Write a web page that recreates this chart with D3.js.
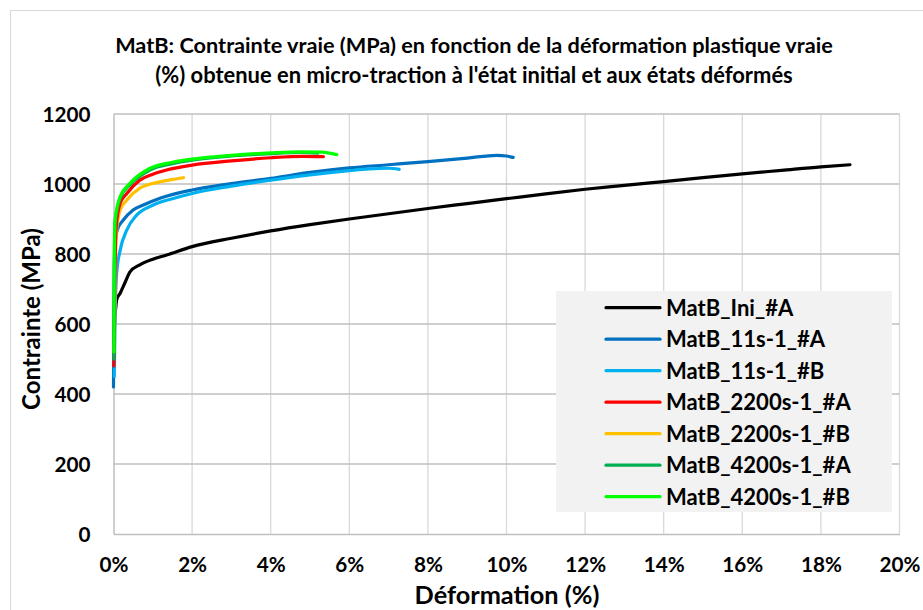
<!DOCTYPE html>
<html><head><meta charset="utf-8">
<script src="https://cdn.jsdelivr.net/npm/d3@7"></script>
<style>body{margin:0;background:#fff}svg{display:block}text{font-family:Lato,"Open Sans",sans-serif;font-weight:bold;fill:#000}</style>
</head><body><svg id="c" width="923" height="610"></svg>
<script>
const titleLines = ["MatB: Contrainte vraie (MPa) en fonction de la déformation plastique vraie",
  "(%) obtenue en micro-traction à l'état initial et aux états déformés"];
const xTicks = [0,2,4,6,8,10,12,14,16,18,20];
const yTicks = [0,200,400,600,800,1000,1200];
const seriesNames = ["MatB_Ini_#A","MatB_11s-1_#A","MatB_11s-1_#B","MatB_2200s-1_#A","MatB_2200s-1_#B","MatB_4200s-1_#A","MatB_4200s-1_#B"];
const seriesColors = ["#000000","#0070c0","#00b0f0","#ff0000","#ffc000","#00b050","#00ff00"];
// [strain %, stress MPa]
const ini_A = [[0.01,560],[0.03,610],[0.06,650],[0.08,669],[0.17,688],[0.3,720],[0.42,749],[0.67,769],[1.0,785],[1.35,797],[2,821],[3,845],[4,866],[5,884],[6,900],[7,915],[8,930],[9,944],[10,958],[11,972],[12,985],[13,996],[14,1007],[15,1018],[16,1029],[17,1039],[18,1049],[18.74,1055]];
const s11_A = [[0.0,420],[0.01,600],[0.02,760],[0.04,830],[0.1,870],[0.25,897],[0.5,926],[0.76,940],[1.2,960],[2,983],[3,1001],[4,1016],[5,1033],[6,1046],[7,1055],[8,1064],[9,1074],[9.75,1082],[10.0,1080],[10.17,1076]];
const s11_B = [[0.02,450],[0.04,620],[0.08,745],[0.17,811],[0.34,869],[0.59,911],[1.01,940],[1.5,958],[2,973],[3,994],[4,1011],[5,1026],[6,1038],[6.5,1043],[7.0,1045],[7.27,1042]];
const s2200_A = [[0.01,480],[0.03,700],[0.07,880],[0.17,945],[0.34,973],[0.67,1011],[1.0,1028],[1.35,1040],[2,1054],[3,1066],[4,1075],[4.8,1079],[5.34,1078]];
const s2200_B = [[0.02,520],[0.04,720],[0.08,870],[0.17,926],[0.34,954],[0.67,988],[1.18,1006],[1.5,1013],[1.78,1018]];
const s4200_A = [[0.01,500],[0.02,750],[0.04,890],[0.17,960],[0.42,998],[0.93,1040],[1.5,1058],[2,1068],[3,1080],[4,1087],[4.75,1090],[5.2,1088]];
const s4200_B = [[0.01,520],[0.02,800],[0.04,897],[0.17,964],[0.42,1002],[0.93,1045],[1.5,1062],[2,1071],[3,1082],[4,1089],[4.75,1092],[5.3,1091],[5.68,1084]];
const seriesData = [ini_A, s11_A, s11_B, s2200_A, s2200_B, s4200_A, s4200_B];

const svg = d3.select("#c");
const W = 923, H = 610;
svg.append("rect").attr("x",10.5).attr("y",10.5).attr("width",W+5).attr("height",H+5)
  .attr("fill","#fff").attr("stroke","#d9d9d9");

const x = d3.scaleLinear().domain([0,20]).range([113.5,899.5]);
const y = d3.scaleLinear().domain([0,1200]).range([534,114]);

function fit(sel, target){
  const n = sel.node(); let fs = parseFloat(sel.attr("font-size"));
  const w = n.getComputedTextLength(); sel.attr("font-size", fs*target/w);
  return fs*target/w;
}

// grid
const g = svg.append("g");
g.append("g").selectAll("line").data(xTicks.slice(1)).join("line")
  .attr("x1",d=>x(d)).attr("x2",d=>x(d)).attr("y1",y(0)).attr("y2",y(1200))
  .attr("stroke","#d9d9d9").attr("stroke-width",1.3);
g.append("g").selectAll("line").data(yTicks.slice(1)).join("line")
  .attr("x1",x(0)).attr("x2",x(20)).attr("y1",d=>y(d)).attr("y2",d=>y(d))
  .attr("stroke","#bfbfbf").attr("stroke-width",1.3);

// axes
const xAxis = svg.append("g").attr("transform",`translate(0,${y(0)})`)
  .call(d3.axisBottom(x).tickValues(xTicks).tickSize(0).tickFormat(d=>d+"%"));
xAxis.select(".domain").attr("stroke","#bfbfbf").attr("stroke-width",1.5);
const xtxt = xAxis.selectAll("text").attr("font-size",17).attr("dy",0).attr("y",38).style("font-family","Lato").style("font-weight","bold");
const yAxis = svg.append("g").attr("transform",`translate(${x(0)},0)`)
  .call(d3.axisLeft(y).tickValues(yTicks).tickSize(0).tickFormat(d3.format("d")));
yAxis.select(".domain").attr("stroke","#bfbfbf").attr("stroke-width",1.5);
const ytxt = yAxis.selectAll("text").attr("font-size",17).attr("x",-23).attr("dy","0.36em").style("font-family","Lato").style("font-weight","bold");
svg.selectAll(".tick text").attr("fill","#000");
// size tick font so "1200" is ~48px wide
const yfs = fit(ytxt.filter(d=>d===1200), 48);
ytxt.attr("font-size",yfs);
xtxt.attr("font-size",yfs);

// lines
const line = d3.line().x(d=>x(d[0])).y(d=>y(d[1])).curve(d3.curveMonotoneX);
const order = [0,1,2,4,3,5,6];
svg.append("g").selectAll("path").data(order).join("path")
  .attr("d",i=>line(seriesData[i])).attr("fill","none")
  .attr("stroke",i=>seriesColors[i]).attr("stroke-width",3.2)
  .attr("stroke-linecap","round").attr("stroke-linejoin","round");

// title
titleLines.forEach((t,i)=>{
  const tx = svg.append("text").attr("x",474).attr("y",53+i*30).attr("text-anchor","middle")
    .attr("font-size",17).text(t);
  fit(tx, i===0?718:638);
});

// axis titles
const xt = svg.append("text").attr("x",507).attr("y",604).attr("text-anchor","middle").attr("font-size",19).text("Déformation (%)");
fit(xt,185);
const yt = svg.append("text").attr("transform","translate(40,319) rotate(-90)").attr("text-anchor","middle").attr("font-size",19).text("Contrainte (MPa)");
fit(yt,182);

// legend
const lg = svg.append("g");
lg.append("rect").attr("x",556).attr("y",291).attr("width",336).attr("height",221).attr("fill","#f2f2f2");
seriesNames.forEach((n,i)=>{
  const yy = 307.7 + i*31.5;
  lg.append("line").attr("x1",606).attr("x2",660).attr("y1",yy).attr("y2",yy)
    .attr("stroke",seriesColors[i]).attr("stroke-width",3.2).attr("stroke-linecap","round");
  const t = lg.append("text").attr("x",666).attr("y",yy).attr("dy","0.36em").attr("font-size",18).text(n);
  if(i===6) fit(t,184);
});
const lfs = lg.selectAll("text").filter((d,i)=>i===6).attr("font-size");
lg.selectAll("text").attr("font-size",lfs);
</script></body></html>
